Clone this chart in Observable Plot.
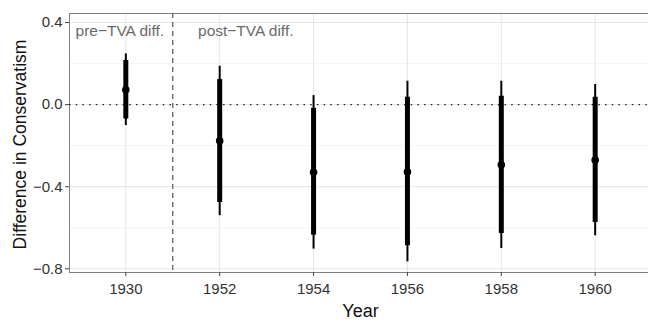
<!DOCTYPE html>
<html>
<head>
<meta charset="utf-8">
<script src="https://cdn.jsdelivr.net/npm/d3@7"></script>
<script src="https://cdn.jsdelivr.net/npm/@observablehq/plot@0.6"></script>
<style>
  html, body { margin: 0; padding: 0; background: #fff; }
  svg { display: block; }
</style>
</head>
<body>
<div id="chart"></div>
<script>
const years = ["1930", "1952", "1954", "1956", "1958", "1960"];
const estimate = [0.072, -0.176, -0.330, -0.327, -0.293, -0.270];
const innerLow = [-0.070, -0.477, -0.636, -0.688, -0.628, -0.574];
const innerHigh = [0.215, 0.122, -0.018, 0.036, 0.041, 0.036];
const outerLow = [-0.102, -0.541, -0.704, -0.766, -0.701, -0.639];
const outerHigh = [0.247, 0.187, 0.044, 0.114, 0.114, 0.098];
const yTicks = [0.4, 0.0, -0.4, -0.8];
const yMinor = [0.2, -0.2, -0.6];
const periodLabels = ["pre\u2212TVA diff.", "post\u2212TVA diff."];
const periodLabelPos = [-0.536, 0.769];
const breakPos = 0.5;

const data = years.map((y, i) => ({
  i, year: y, est: estimate[i],
  il: innerLow[i], ih: innerHigh[i], ol: outerLow[i], oh: outerHigh[i]
}));
const idx = years.map((_, i) => i);

const plot = Plot.plot({
  width: 648,
  height: 323,
  marginTop: 13,
  marginBottom: 51,
  marginLeft: 69,
  marginRight: -3,
  style: { fontFamily: "Liberation Sans, Arial, sans-serif", background: "#fff" },
  x: { domain: [-0.6, 5.6], axis: null },
  y: { domain: [-0.818, 0.444], axis: null },
  marks: [
    Plot.ruleY(yMinor, { stroke: "#f3f3f3", strokeWidth: 0.8 }),
    Plot.ruleY(yTicks, { stroke: "#e6e6e6", strokeWidth: 1 }),
    Plot.ruleX(idx, { stroke: "#e6e6e6", strokeWidth: 1 }),
    Plot.frame({ stroke: "#7f7f7f", strokeWidth: 1 }),
    Plot.ruleY([0], { stroke: "#222", strokeWidth: 1.3, strokeDasharray: "1.5,5.2" }),
    Plot.ruleX([breakPos], { stroke: "#555", strokeWidth: 1.2, strokeDasharray: "5,4" }),
    Plot.ruleX(data, { x: "i", y1: "ol", y2: "oh", stroke: "#000", strokeWidth: 2 }),
    Plot.ruleX(data, { x: "i", y1: "il", y2: "ih", stroke: "#000", strokeWidth: 5 }),
    Plot.dot(data, { x: "i", y: "est", r: 3.8, fill: "#000" }),
    Plot.text(periodLabels, {
      x: (d, i) => periodLabelPos[i], y: 0.444, text: d => d,
      textAnchor: "start", dy: 17.5, fontSize: 15.5, fill: "#6a6a6a"
    }),
    Plot.axisY(yTicks, {
      tickFormat: d3.format(".1f"), tickSize: 4, tickPadding: 3,
      fontSize: 15, color: "#333", label: null, stroke: "#444"
    }),
    Plot.axisX(idx, {
      tickFormat: i => years[i], tickSize: 4, tickPadding: 7,
      fontSize: 15, color: "#333", label: null, stroke: "#444"
    }),
    Plot.text(["Year"], { frameAnchor: "bottom", dy: 44, fontSize: 18, fill: "#111" }),
    Plot.text(["Difference in Conservatism"], {
      frameAnchor: "left", textAnchor: "middle", rotate: -90, dx: -49, dy: 1.5,
      fontSize: 17.5, fill: "#111"
    })
  ]
});
document.getElementById("chart").append(plot);
</script>
</body>
</html>
